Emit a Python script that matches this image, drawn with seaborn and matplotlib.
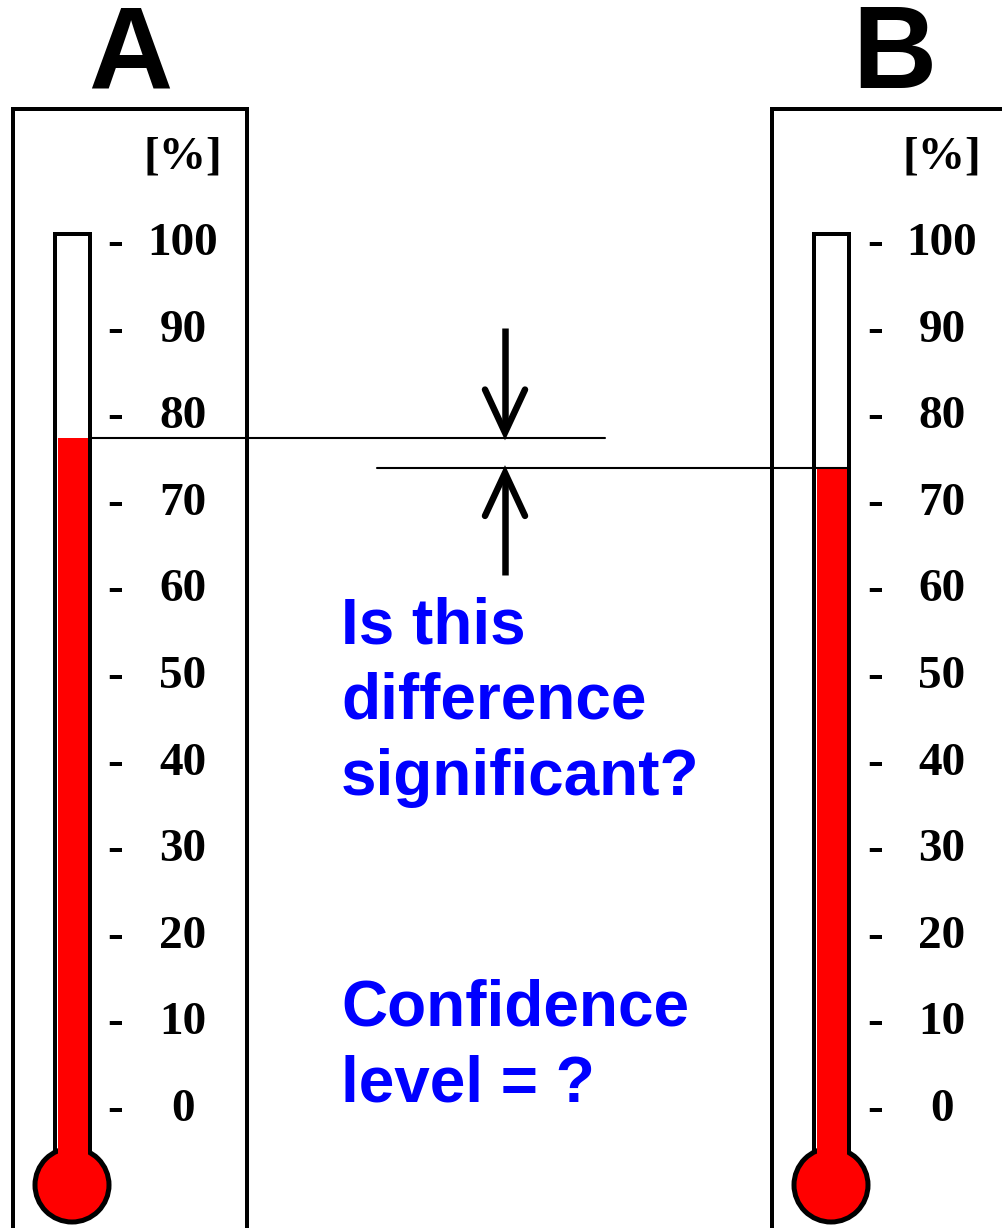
import numpy as np
import pandas as pd
import matplotlib
matplotlib.use("Agg")
import matplotlib.pyplot as plt
import seaborn as sns
from matplotlib.patches import Rectangle, Ellipse

# ---------------- data ----------------
labels = ["A", "B"]
values = [77.3, 73.8]                 # thermometer readings [%]
ticks = [0, 10, 20, 30, 40, 50, 60, 70, 80, 90, 100]
tick_labels = [str(t) for t in ticks]
unit_label = "[%]"
question_lines = ["Is this", "difference", "significant?"]
confidence_lines = ["Confidence", "level = ?"]

# ---------------- style ----------------
sns.set_theme(style="white")
plt.rcParams["font.family"] = ["Liberation Sans", "DejaVu Sans"]
plt.rcParams["text.color"] = "black"

W, H = 1003, 1228
fig = plt.figure(figsize=(W / 100, H / 100), dpi=100)
fig.patch.set_facecolor("white")
ax = fig.add_axes([0, 0, 1, 1])

PX = 8.66      # pixels per percent
ZERO = 1107    # pixel row of 0 %


def vy(py):
    return (ZERO - py) / PX


def dy(px):
    return px / PX


# layout
tube_x = [73, 832]
bulb_x = [72, 831]
box_x = [(13, 247), (772, 1012)]
title_x = [130, 894]
dash_x = [115, 875]
num_x = [183, 942]
tube_half = 17.5
red_w = 30
bulb_r = 37
bulb_cy = vy(1185)
tube_top = vy(234)
box_top = vy(109)

df = pd.DataFrame({"pos": tube_x, "value": values, "label": labels})
sns.barplot(data=df, x="pos", y="value", native_scale=True, orient="x",
            width=red_w / (tube_x[1] - tube_x[0]), color="#FF0000",
            saturation=1, errorbar=None, linewidth=0, zorder=4, ax=ax)

lw_box = 4 * 72 / 100
serif = ["Liberation Serif", "DejaVu Serif"]
for i, lab in enumerate(labels):
    cx = tube_x[i]
    # outer box
    bx0, bx1 = box_x[i]
    ax.add_patch(Rectangle((bx0, vy(H + 20)), bx1 - bx0, box_top - vy(H + 20),
                           facecolor="none", edgecolor="black", lw=lw_box, zorder=1))
    # tube
    ax.add_patch(Rectangle((cx - tube_half, bulb_cy), 2 * tube_half, tube_top - bulb_cy,
                           facecolor="white", edgecolor="black", lw=lw_box, zorder=2))
    # bulb
    ax.add_patch(Ellipse((bulb_x[i], bulb_cy), 2 * bulb_r, dy(2 * bulb_r),
                         facecolor="#FF0000", edgecolor="black", lw=3.6, zorder=3))
    # red column below 0
    ax.add_patch(Rectangle((cx - red_w / 2, bulb_cy), red_w, 0 - bulb_cy + 0.05,
                           facecolor="#FF0000", edgecolor="none", zorder=4))
    # title
    ax.text(title_x[i], vy(88), lab, ha="center", va="baseline", color="black",
            fontsize=84, fontweight="bold", family=["Liberation Sans", "DejaVu Sans"])
    # unit
    ax.text(num_x[i], vy(168), unit_label, ha="center", va="baseline", color="black",
            fontsize=34, fontweight="bold", family=serif)
    # scale
    for t, tl in zip(ticks, tick_labels):
        ax.text(dash_x[i], t - dy(14), "-", ha="center", va="baseline", color="black",
                fontsize=34, fontweight="bold", family=serif)
        ax.text(num_x[i], t - dy(14), tl, ha="center", va="baseline", color="black",
                fontsize=34, fontweight="bold", family=serif)

# reference lines at the readings
ax.plot([92, 605], [values[0], values[0]], color="black", lw=1.5, zorder=5)
ax.plot([377, 850], [values[1], values[1]], color="black", lw=1.5, zorder=5)

# arrows
ax_x = 505
arm = 20
lw_arr = 6.5 * 72 / 100
tipA = values[0] + dy(5)
ax.plot([ax_x, ax_x], [vy(328), tipA + dy(3)], color="black", lw=lw_arr,
        solid_capstyle="butt", zorder=5)
ax.plot([ax_x - arm, ax_x, ax_x + arm], [tipA + dy(43), tipA, tipA + dy(43)],
        color="black", lw=lw_arr, solid_capstyle="round", solid_joinstyle="miter", zorder=5)
tipB = values[1] - dy(5)
ax.plot([ax_x, ax_x], [vy(575), tipB - dy(3)], color="black", lw=lw_arr,
        solid_capstyle="butt", zorder=5)
ax.plot([ax_x - arm, ax_x, ax_x + arm], [tipB - dy(43), tipB, tipB - dy(43)],
        color="black", lw=lw_arr, solid_capstyle="round", solid_joinstyle="miter", zorder=5)

# blue texts
for line, by in zip(question_lines, [643, 718, 795]):
    ax.text(341, vy(by), line, ha="left", va="baseline", fontsize=46,
            fontweight="bold", color="#0000FF")
for line, by in zip(confidence_lines, [1025, 1102]):
    ax.text(341, vy(by), line, ha="left", va="baseline", fontsize=46,
            fontweight="bold", color="#0000FF")

ax.set_xlim(0, W)
ax.set_ylim(vy(H), vy(0))
ax.axis("off")

fig.savefig("out.png", dpi=100, facecolor="white")
